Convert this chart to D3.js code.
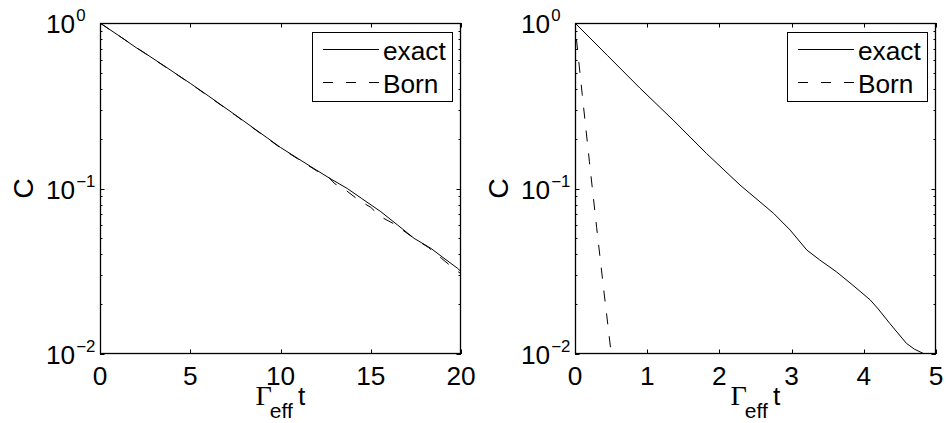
<!DOCTYPE html>
<html>
<head>
<meta charset="utf-8">
<script src="https://cdn.jsdelivr.net/npm/d3@7"></script>
<style>
  html, body { margin: 0; padding: 0; background: #fff; }
  svg { display: block; }
  text { font-family: "Liberation Sans", Arial, Helvetica, sans-serif; fill: #000; }
</style>
</head>
<body>
<svg id="chart" width="946" height="423"></svg>
<script>
// Data: [t, C] pairs
const leftExact = [
  [0, 1], [1, 0.845], [2, 0.71], [2.5, 0.656], [3.5, 0.556], [5, 0.432], [6, 0.363],
  [7.5, 0.278], [8.5, 0.232], [9.3, 0.201], [10, 0.177], [11, 0.151], [11.85, 0.132],
  [12.8, 0.114], [13.7, 0.100], [14.5, 0.087], [15.56, 0.0724], [16.5, 0.060],
  [17.4, 0.050], [18.33, 0.0435], [19, 0.0383], [19.8, 0.033], [20, 0.0315]
];
const leftBorn = [
  [0, 1], [2.5, 0.655], [5, 0.431], [7.5, 0.277], [10, 0.176], [11, 0.150],
  [12, 0.128], [12.6, 0.119], [13, 0.107], [13.6, 0.098], [14.4, 0.084], [15, 0.077],
  [15.5, 0.068], [16.3, 0.061], [17.4, 0.050], [18.2, 0.044], [18.9, 0.038],
  [19.5, 0.0335], [20, 0.0305]
];
const rightExact = [
  [0, 1], [0.45, 0.636], [0.9, 0.404], [1.36, 0.259], [1.82, 0.163], [2.285, 0.105],
  [2.75, 0.0708], [2.98, 0.0561], [3.21, 0.0425], [3.39, 0.037], [3.62, 0.0314],
  [3.85, 0.026], [4.09, 0.0212], [4.2, 0.0187], [4.36, 0.0153], [4.59, 0.0116],
  [4.7, 0.0107], [4.82, 0.0101], [4.9, 0.0097]
];
const rightBorn = [
  [0.02, 0.8], [0.1, 0.37], [0.2, 0.145], [0.3, 0.058], [0.4, 0.024], [0.5, 0.0102], [0.52, 0.0088]
];
const leftXTicks = [0, 5, 10, 15, 20];
const rightXTicks = [0, 1, 2, 3, 4, 5];
const yTicks = [1, 0.1, 0.01];
const yTickExp = ["0", "\u22121", "\u22122"];
const legendLabels = ["exact", "Born"];

const svg = d3.select('#chart');
const STRETCH = 1.05; // text in the picture is a little wider than tall
const FS = 25;

function addText(g, x, y, str, size, anchor) {
  return g.append('text')
    .attr('transform', `translate(${x},${y}) scale(${STRETCH},1)`)
    .attr('font-size', size)
    .attr('text-anchor', anchor || 'start')
    .text(str);
}

function drawPanel(id, left, xMax, xTicks, exact, born) {
  const right = left + 361, top = 23, bottom = 354;
  const g = svg.append('g');
  const x = d3.scaleLinear().domain([0, xMax]).range([left, right]);
  const y = d3.scaleLog().domain([0.01, 1]).range([bottom, top]);

  // clip
  svg.append('clipPath').attr('id', 'clip' + id)
    .append('rect').attr('x', left).attr('y', top).attr('width', right - left).attr('height', bottom - top);

  const line = d3.line().x(d => x(d[0])).y(d => y(d[1]));
  const plot = g.append('g').attr('clip-path', `url(#clip${id})`);
  plot.append('path').datum(exact)
    .attr('d', line).attr('fill', 'none').attr('stroke', '#000').attr('stroke-width', 1);
  plot.append('path').datum(born)
    .attr('d', line).attr('fill', 'none').attr('stroke', '#000').attr('stroke-width', 1)
    .attr('stroke-dasharray', '11,12');

  // box
  g.append('rect').attr('x', left + 0.5).attr('y', top + 0.5)
    .attr('width', right - left - 1).attr('height', bottom - top - 1)
    .attr('fill', 'none').attr('stroke', '#000').attr('stroke-width', 1.3);

  // x ticks (bottom and top, inward)
  xTicks.forEach(t => {
    const px = Math.round(x(t)) + 0.5;
    g.append('line').attr('x1', px).attr('x2', px).attr('y1', bottom).attr('y2', bottom - 4.5)
      .attr('stroke', '#000');
    g.append('line').attr('x1', px).attr('x2', px).attr('y1', top).attr('y2', top + 4.5)
      .attr('stroke', '#000');
    addText(g, x(t), bottom + 31, String(t), FS, 'middle');
  });

  // y ticks major and minor (left and right, inward)
  const minor = [];
  [0.01, 0.1].forEach(dec => { for (let k = 2; k <= 9; k++) minor.push(dec * k); });
  minor.forEach(v => {
    const py = Math.round(y(v)) + 0.5;
    g.append('line').attr('x1', left).attr('x2', left + 2.5).attr('y1', py).attr('y2', py).attr('stroke', '#000');
    g.append('line').attr('x1', right).attr('x2', right - 2.5).attr('y1', py).attr('y2', py).attr('stroke', '#000');
  });
  yTicks.forEach((v, i) => {
    const py = Math.round(y(v)) + 0.5;
    g.append('line').attr('x1', left).attr('x2', left + 4.5).attr('y1', py).attr('y2', py).attr('stroke', '#000');
    g.append('line').attr('x1', right).attr('x2', right - 4.5).attr('y1', py).attr('y2', py).attr('stroke', '#000');
    const t = g.append('text')
      .attr('transform', `translate(${left - 54},${y(v) + 10}) scale(${STRETCH},1)`)
      .attr('font-size', FS);
    t.append('tspan').text('10');
    t.append('tspan').attr('font-size', 16).attr('dy', -12).attr('dx', 1).text(yTickExp[i]);
  });

  // axis labels
  const cx = (left + right) / 2;
  const xl = g.append('text')
    .attr('transform', `translate(${cx - 25},405) scale(${STRETCH},1)`)
    .attr('font-size', FS);
  xl.append('tspan').attr('font-family', '"Liberation Serif", "Times New Roman", serif')
    .attr('font-size', 27).text('\u0393');
  xl.append('tspan').attr('font-size', 20).attr('dy', 13).attr('dx', -2).text('eff');
  xl.append('tspan').attr('dy', -13).attr('dx', 5).text('t');

  g.append('text')
    .attr('transform', `translate(${left - 67},${(top + bottom) / 2}) rotate(-90) scale(${STRETCH},1)`)
    .attr('font-size', 27).attr('text-anchor', 'middle').text('C');

  // legend
  const lx = right - 149, ly = 32, lw = 140, lh = 69;
  g.append('rect').attr('x', lx + 0.5).attr('y', ly + 0.5).attr('width', lw).attr('height', lh)
    .attr('fill', '#fff').attr('stroke', '#000').attr('stroke-width', 1);
  [0, 1].forEach(i => {
    const yy = ly + 17.5 + i * 33;
    g.append('line').attr('x1', lx + 11).attr('x2', lx + 67).attr('y1', yy).attr('y2', yy)
      .attr('stroke', '#000').attr('stroke-width', 1)
      .attr('stroke-dasharray', i === 1 ? '10,13' : null);
    addText(g, lx + 71, yy + 10, legendLabels[i], FS, 'start');
  });
}

drawPanel('L', 100, 20, leftXTicks, leftExact, leftBorn);
drawPanel('R', 575, 5, rightXTicks, rightExact, rightBorn);
</script>
</body>
</html>
